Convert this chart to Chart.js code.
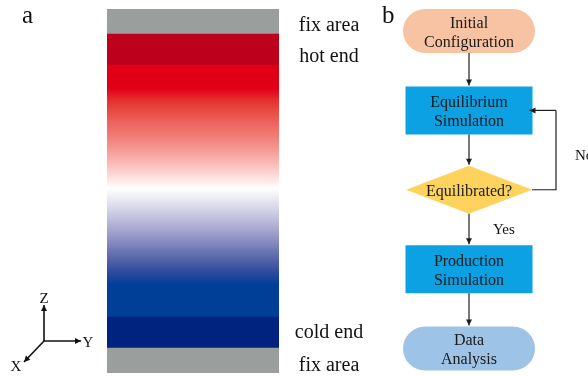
<!DOCTYPE html>
<html>
<head>
<meta charset="utf-8">
<script src="https://cdn.jsdelivr.net/npm/chart.js@4.4.1/dist/chart.umd.min.js"></script>
<style>
  html, body { margin: 0; padding: 0; background: #fff; }
  #wrap { position: relative; width: 588px; height: 376px; overflow: hidden; }
  canvas { position: absolute; top: 0; }
  #slab { left: 0; }
  #flow { left: 370px; }
</style>
</head>
<body>
<div id="wrap">
  <canvas id="slab" width="370" height="376"></canvas>
  <canvas id="flow" width="218" height="376"></canvas>
</div>
<script>
// ---- (a) simulation box, layers listed from bottom (z = 0) to top ----
const layerNames     = ['fix area', 'cold end', 'cold bath', 'cold ramp', 'hot ramp', 'hot bath', 'hot end', 'fix area'];
const layerThickness = [25, 31, 32, 97, 99, 24, 31, 25];
const layerFill      = ['#9a9e9d', '#00237f', '#003f98', 'cold', 'hot', '#df0016', '#bd001b', '#9a9e9d'];
const layerLabels    = ['fix area', 'cold end', '', '', '', '', 'hot end', 'fix area'];

// temperature ramps, stop 0 = bottom of the layer, stop 1 = top
const hotRamp  = [[0, '#ffffff'], [0.06, '#fdecec'], [0.18, '#fbcdca'], [0.33, '#f7a7a3'], [0.48, '#f2857f'],
                  [0.64, '#ed6761'], [0.79, '#e84840'], [0.89, '#e4302c'], [1, '#e1001a']];
const coldRamp = [[0, '#003f98'], [0.05, '#10439a'], [0.13, '#2c4a9c'], [0.24, '#4e5ea6'], [0.36, '#7079b5'],
                  [0.52, '#9a9cca'], [0.67, '#bdbcdc'], [0.82, '#dcdcec'], [0.93, '#f2f2f8'], [1, '#ffffff']];
const ramps = { hot: hotRamp, cold: coldRamp };

// ---- (b) workflow ----
const flowSteps  = ['Initial\nConfiguration', 'Equilibrium\nSimulation', 'Equilibrated?', 'Production\nSimulation', 'Data\nAnalysis'];
const flowShapes = ['stadium', 'rect', 'diamond', 'rect', 'stadium'];
const flowColors = ['#f8c3a3', '#0ba1e2', '#fdd35e', '#0ba1e2', '#9dc3e6'];
const branchLabels = ['Yes', 'No'];

const SERIF = '"Liberation Serif", "Times New Roman", serif';
const INK = '#111111';

const layerBase = layerThickness.map((_, i) => layerThickness.slice(0, i).reduce((a, b) => a + b, 0));
const boxHeight = layerThickness.reduce((a, b) => a + b, 0);

function layerColor(i) {
  const f = layerFill[i];
  if (!ramps[f]) return f;
  return (ctx) => {
    const chart = ctx.chart;
    if (!chart.chartArea) return '#ffffff';
    const y = chart.scales.y;
    const g = chart.ctx.createLinearGradient(0, y.getPixelForValue(layerBase[i]), 0,
                                             y.getPixelForValue(layerBase[i] + layerThickness[i]));
    ramps[f].forEach(([o, c]) => g.addColorStop(o, c));
    return g;
  };
}

function arrowHead(ctx, x, y, ang, len, half) {
  ctx.save();
  ctx.translate(x, y);
  ctx.rotate(ang);
  ctx.beginPath();
  ctx.moveTo(0, 0);
  ctx.lineTo(-len, -half);
  ctx.lineTo(-len, half);
  ctx.closePath();
  ctx.fill();
  ctx.restore();
}

function arrow(ctx, x1, y1, x2, y2) {
  ctx.beginPath();
  ctx.moveTo(x1, y1);
  ctx.lineTo(x2, y2);
  ctx.stroke();
  arrowHead(ctx, x2, y2, Math.atan2(y2 - y1, x2 - x1), 6, 3);
}

// caption offsets (px) relative to the layer centre, by layer index
const captionShift = { 0: 3, 1: -2, 6: 5, 7: 2 };

const slabDecor = {
  id: 'slabDecor',
  afterDraw(chart) {
    const ctx = chart.ctx;
    const y = chart.scales.y;
    ctx.save();
    ctx.fillStyle = INK;
    ctx.strokeStyle = INK;
    // layer captions to the right of the box
    ctx.font = '20px ' + SERIF;
    ctx.textAlign = 'center';
    ctx.textBaseline = 'middle';
    layerLabels.forEach((t, i) => {
      if (!t) return;
      const yc = y.getPixelForValue(layerBase[i] + layerThickness[i] / 2);
      ctx.fillText(t, chart.chartArea.right + 50, yc + 2 + (captionShift[i] || 0));
    });
    // panel letter
    ctx.font = '25px ' + SERIF;
    ctx.textAlign = 'left';
    ctx.textBaseline = 'alphabetic';
    ctx.fillText('a', 22, 23);
    // coordinate triad
    const ox = 44, oy = 341;
    ctx.lineWidth = 1.6;
    arrow(ctx, ox, oy, ox, 305);
    arrow(ctx, ox, oy, 81, oy);
    arrow(ctx, ox, oy, 24, 362);
    ctx.font = '15px ' + SERIF;
    ctx.textAlign = 'center';
    ctx.textBaseline = 'alphabetic';
    ctx.fillText('Z', ox, 303);
    ctx.fillText('Y', 88, 347);
    ctx.fillText('X', 16, 371);
    ctx.restore();
  }
};

new Chart(document.getElementById('slab'), {
  type: 'bar',
  data: {
    labels: ['box'],
    datasets: layerNames.map((name, i) => ({
      label: name,
      data: [layerThickness[i]],
      backgroundColor: layerColor(i),
      borderWidth: 0,
      barPercentage: 1,
      categoryPercentage: 1
    }))
  },
  options: {
    responsive: false,
    animation: false,
    layout: { padding: { left: 107, right: 91, top: 9, bottom: 3 } },
    scales: {
      x: { stacked: true, display: false },
      y: { stacked: true, display: false, min: 0, max: boxHeight }
    },
    plugins: { legend: { display: false }, tooltip: { enabled: false } }
  },
  plugins: [slabDecor]
});

const shapeSize = { stadium: { w: 132, h: 44 }, rect: { w: 127, h: 48 }, diamond: { w: 126, h: 48 } };

const flowDecor = {
  id: 'flowDecor',
  afterDatasetsDraw(chart) {
    const ctx = chart.ctx;
    const pts = chart.getDatasetMeta(0).data;
    ctx.save();
    // nodes
    pts.forEach((p, i) => {
      const s = shapeSize[flowShapes[i]];
      const x = p.x, yc = p.y;
      ctx.fillStyle = flowColors[i];
      ctx.beginPath();
      if (flowShapes[i] === 'stadium') {
        ctx.roundRect(x - s.w / 2, yc - s.h / 2, s.w, s.h, s.h / 2);
      } else if (flowShapes[i] === 'rect') {
        ctx.rect(x - s.w / 2, yc - s.h / 2, s.w, s.h);
      } else {
        ctx.moveTo(x, yc - s.h / 2);
        ctx.lineTo(x + s.w / 2, yc);
        ctx.lineTo(x, yc + s.h / 2);
        ctx.lineTo(x - s.w / 2, yc);
        ctx.closePath();
      }
      ctx.fill();
      ctx.fillStyle = '#1a1a1a';
      ctx.font = '16px ' + SERIF;
      ctx.textAlign = 'center';
      ctx.textBaseline = 'middle';
      const lines = flowSteps[i].split('\n');
      lines.forEach((t, k) => ctx.fillText(t, x, yc - (lines.length - 1) * 9.5 + k * 19 + 2));
    });
    // connectors
    ctx.strokeStyle = '#1e1e1e';
    ctx.fillStyle = '#1e1e1e';
    ctx.lineWidth = 1.2;
    for (let i = 0; i < pts.length - 1; i++) {
      const a = shapeSize[flowShapes[i]], b = shapeSize[flowShapes[i + 1]];
      arrow(ctx, pts[i].x, pts[i].y + a.h / 2, pts[i].x, pts[i + 1].y - b.h / 2 - 1);
    }
    // loop back when not equilibrated
    const d = pts[2], e = pts[1];
    const dw = shapeSize.diamond.w / 2, rw = shapeSize.rect.w / 2;
    const loopX = d.x + 87, loopY = e.y;
    ctx.beginPath();
    ctx.moveTo(d.x + dw, d.y);
    ctx.lineTo(loopX, d.y);
    ctx.lineTo(loopX, loopY);
    ctx.stroke();
    arrow(ctx, loopX, loopY, e.x + rw - 3, loopY);
    // branch labels
    ctx.fillStyle = INK;
    ctx.font = '15px ' + SERIF;
    ctx.textAlign = 'left';
    ctx.textBaseline = 'middle';
    ctx.fillText(branchLabels[0], d.x + 24, (d.y + pts[3].y) / 2 + 1);
    ctx.fillText(branchLabels[1], d.x + 106, (d.y + e.y) / 2 + 6);
    // panel letter
    ctx.font = '25px ' + SERIF;
    ctx.textBaseline = 'alphabetic';
    ctx.fillText('b', 12, 23);
    ctx.restore();
  }
};

new Chart(document.getElementById('flow'), {
  type: 'scatter',
  data: {
    datasets: [{
      label: 'workflow',
      data: flowSteps.map((_, i) => ({ x: 0, y: i })),
      pointRadius: 0,
      pointHoverRadius: 0
    }]
  },
  options: {
    responsive: false,
    animation: false,
    layout: { padding: 0 },
    scales: {
      x: { type: 'linear', display: false, min: -1, max: 1.202 },
      y: { type: 'linear', display: false, reverse: true, min: -0.3906, max: 4.346 }
    },
    plugins: { legend: { display: false }, tooltip: { enabled: false } }
  },
  plugins: [flowDecor]
});
</script>
</body>
</html>
